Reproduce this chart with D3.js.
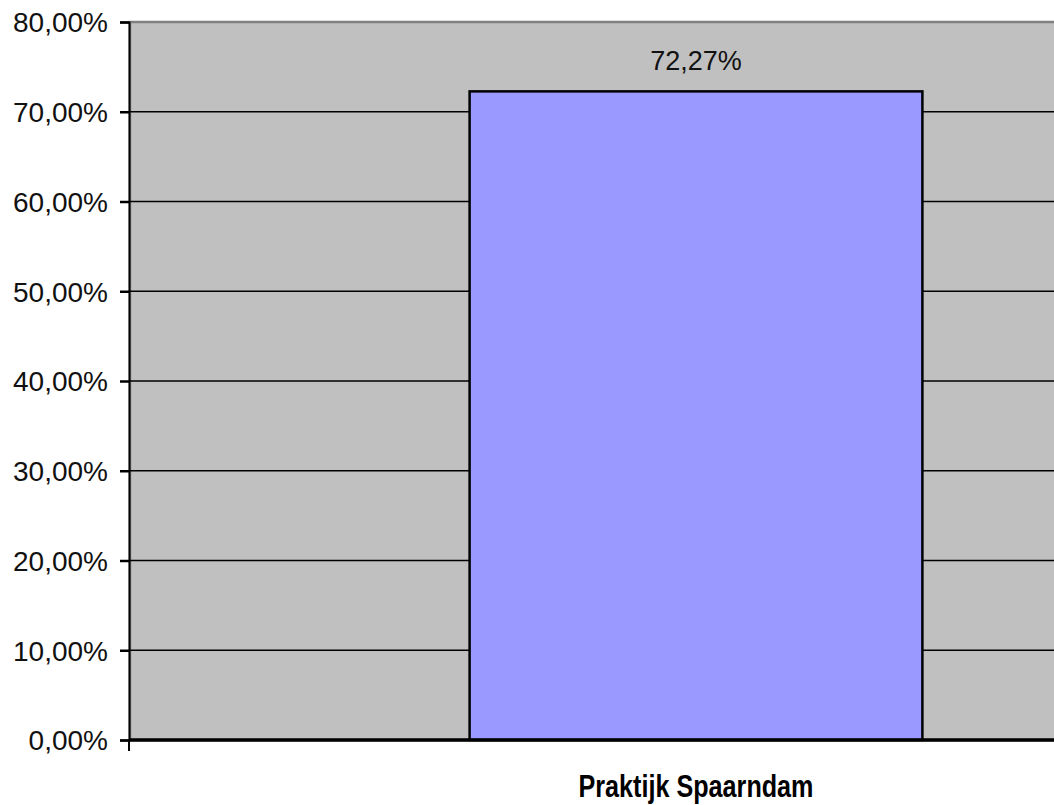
<!DOCTYPE html>
<html>
<head>
<meta charset="utf-8">
<script src="https://cdn.jsdelivr.net/npm/d3@7"></script>
<style>
  html, body { margin: 0; padding: 0; background: #ffffff; }
  svg { display: block; }
</style>
</head>
<body>
<svg id="chart" width="1054" height="805"></svg>
<script>
// Chart data
const categories = ["Praktijk Spaarndam"];
const values = [72.27];               // percent
const yTicks = [0, 10, 20, 30, 40, 50, 60, 70, 80];

const fmt = v => d3.format(".2f")(v).replace(".", ",") + "%";

const svg = d3.select("#chart");

// Plot region (extends past the right edge of the canvas)
const plotLeft = 130, plotRight = 1262, plotTop = 22, plotBottom = 740;

const x = d3.scaleBand()
  .domain(categories)
  .range([plotLeft, plotRight])
  .paddingInner(0.6)
  .paddingOuter(0.3);

const y = d3.scaleLinear()
  .domain([0, 80])
  .range([plotBottom, plotTop]);

// Plot background
svg.append("rect")
  .attr("x", plotLeft).attr("y", plotTop)
  .attr("width", plotRight - plotLeft).attr("height", plotBottom - plotTop)
  .attr("fill", "#c0c0c0")
  .attr("stroke", "#808080")
  .attr("stroke-width", 2.5);

// Horizontal gridlines
svg.append("g")
  .selectAll("line")
  .data(yTicks.filter(t => t > 0 && t < 80))
  .join("line")
  .attr("x1", plotLeft).attr("x2", plotRight)
  .attr("y1", d => y(d)).attr("y2", d => y(d))
  .attr("stroke", "#000")
  .attr("stroke-width", 1.5);

// Bars
svg.append("g")
  .selectAll("rect")
  .data(values)
  .join("rect")
  .attr("x", (d, i) => x(categories[i]))
  .attr("y", d => y(d))
  .attr("width", x.bandwidth())
  .attr("height", d => y(0) - y(d))
  .attr("fill", "#9999ff")
  .attr("stroke", "#000")
  .attr("stroke-width", 2.5);

// Value labels
svg.append("g")
  .selectAll("text")
  .data(values)
  .join("text")
  .attr("x", (d, i) => x(categories[i]) + x.bandwidth() / 2)
  .attr("y", d => y(d) - 21)
  .attr("text-anchor", "middle")
  .attr("font-family", "Liberation Sans, Arial, sans-serif")
  .attr("font-size", 27)
  .attr("fill", "#111")
  .text(d => fmt(d));

// Y axis
const yAxis = d3.axisLeft(y)
  .tickValues(yTicks)
  .tickSize(9)
  .tickPadding(12)
  .tickFormat(fmt);

const gy = svg.append("g")
  .attr("transform", `translate(${plotLeft - 1},0)`)
  .call(yAxis);
gy.select(".domain").attr("stroke", "#000").attr("stroke-width", 2);
gy.selectAll(".tick line").attr("stroke", "#000").attr("stroke-width", 2.5);
gy.selectAll(".tick text")
  .attr("font-family", "Liberation Sans, Arial, sans-serif")
  .attr("font-size", 28)
  .attr("fill", "#111")
  .attr("dy", "0.35em");

// X axis
const xAxis = d3.axisBottom(x).tickSize(0).tickPadding(0).tickFormat("");
const gx = svg.append("g")
  .attr("transform", `translate(0,${plotBottom})`)
  .call(xAxis);
gx.select(".domain").remove();
gx.append("line")
  .attr("x1", plotLeft - 1).attr("x2", plotRight)
  .attr("y1", 0).attr("y2", 0)
  .attr("stroke", "#000").attr("stroke-width", 3.5);
gx.append("line")
  .attr("x1", plotLeft - 1).attr("x2", plotLeft - 1)
  .attr("y1", 0).attr("y2", 11)
  .attr("stroke", "#000").attr("stroke-width", 2);

// Category labels
svg.append("g")
  .selectAll("text")
  .data(categories)
  .join("text")
  .attr("x", d => x(d) + x.bandwidth() / 2)
  .attr("y", 797)
  .attr("text-anchor", "middle")
  .attr("font-family", "Liberation Sans, Arial, sans-serif")
  .attr("font-size", 32)
  .attr("font-weight", "bold")
  .attr("textLength", 235)
  .attr("lengthAdjust", "spacingAndGlyphs")
  .attr("fill", "#000")
  .text(d => d);
</script>
</body>
</html>
